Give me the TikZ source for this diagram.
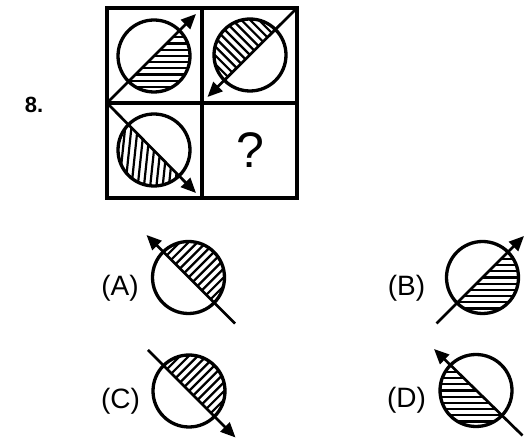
\documentclass[tikz,border=0pt]{standalone}
\usepackage{fontspec}
\setmainfont{Liberation Sans}
\usetikzlibrary{arrows.meta}
\tikzset{
  ring/.style={circle, draw, line width=3.3pt, minimum size=72pt, inner sep=0pt},
  axisline/.style={line width=2.7pt},
  arr/.style={axisline, -{Triangle[length=15pt,width=13pt]}},
  hatchline/.style={line width=2.2pt},
  gridline/.style={line width=3.2pt},
  lab/.style={font=\fontsize{28}{32}\selectfont, inner sep=0pt},
}
% #1,#2 centre; #3 direction of shaded side; #4 hatch direction
\newcommand{\hatchhalf}[4]{%
  \begin{scope}[shift={(#1,#2)}]
    \clip (0,0) circle (36);
    \clip (#3-90:50) -- ++(#3:50) -- ++(#3+90:100) -- ++(#3+180:50) -- cycle;
    \foreach \k in {-8,...,8}
      \draw[hatchline, rotate=#4] (-50,\k*6.2) -- (50,\k*6.2);
  \end{scope}}
\begin{document}
\begin{tikzpicture}[x=1pt,y=1pt]
\useasboundingbox (0,0) rectangle (525,439);
% grid
\coordinate (gbl) at (107,241);
\coordinate (gtr) at (297,431);
\coordinate (gml) at (107,336);
\coordinate (gmr) at (297,336);
\coordinate (gmt) at (202,431);
\coordinate (gmb) at (202,241);
\draw[gridline] (gbl) rectangle (gtr);
\draw[gridline] (gml) -- (gmr);
\draw[gridline] (gmt) -- (gmb);
\node[font=\bfseries\fontsize{22}{26}\selectfont] (num) at (34,334) {8.};
% cell 1
\hatchhalf{154}{383}{-45}{0}
\node[ring] (c1) at (154,383) {};
\coordinate (t1) at (196,425);
\draw[arr] (gml) -- (t1);
% cell 2
\hatchhalf{250}{384}{135}{135}
\node[ring] (c2) at (250,384) {};
\coordinate (t2) at (207.5,342);
\draw[arr] (gtr) -- (t2);
% cell 3
\hatchhalf{154}{289}{225}{84}
\node[ring] (c3) at (154,289) {};
\coordinate (t3) at (196,246);
\draw[arr] (gml) -- (t3);
% cell 4
\node[font=\fontsize{50}{54}\selectfont] (q) at (250,289) {?};
% option A
\node[lab] (la) at (120,151) {(A)};
\hatchhalf{188.5}{161.5}{45}{45}
\node[ring] (ca) at (188.5,161.5) {};
\coordinate (sa) at (235,115.5);
\coordinate (ta) at (146.5,204);
\draw[arr] (sa) -- (ta);
% option B
\node[lab] (lb) at (406.5,151) {(B)};
\hatchhalf{482.5}{161.5}{-45}{0}
\node[ring] (cb) at (482.5,161.5) {};
\coordinate (sb) at (436.5,115.5);
\coordinate (tb) at (524,203);
\draw[arr] (sb) -- (tb);
% option C
\node[lab] (lc) at (120.5,38) {(C)};
\hatchhalf{189}{48}{45}{45}
\node[ring] (cc) at (189,48) {};
\coordinate (sc) at (148,89);
\coordinate (tc) at (235.5,1.5);
\draw[arr] (sc) -- (tc);
% option D
\node[lab] (ld) at (406.5,39) {(D)};
\hatchhalf{476}{48.5}{225}{0}
\node[ring] (cd) at (476,48.5) {};
\coordinate (sd) at (522.5,3.5);
\coordinate (td) at (434,90);
\draw[arr] (sd) -- (td);
\end{tikzpicture}
\end{document}
